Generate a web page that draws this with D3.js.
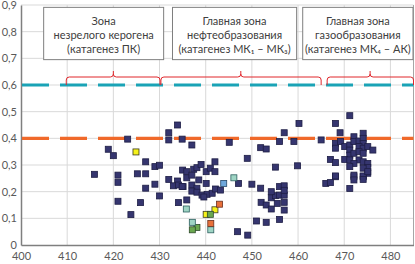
<!DOCTYPE html>
<html><head><meta charset="utf-8">
<script src="https://cdn.jsdelivr.net/npm/d3@7"></script>
<style>body{margin:0;background:#fff;}svg{display:block;font-family:Lato,"Open Sans",sans-serif;}</style>
</head><body><div id="chart"></div>
<script>
const xTicks = [400,410,420,430,440,450,460,470,480];
const yTicks = [0,0.1,0.2,0.3,0.4,0.5,0.6,0.7,0.8,0.9];
const thresholdGas = 0.6;
const thresholdOil = 0.4;

const navyPoints = [
[433.9,0.45],[432.0,0.421],[432.0,0.394],[434.9,0.397],[423.1,0.397],[418.9,0.359],[420.0,0.335],
[427.0,0.312],[429.0,0.294],[430.0,0.299],[415.9,0.265],[421.0,0.262],[421.0,0.235],[425.2,0.267],
[427.0,0.267],[427.0,0.213],[429.0,0.228],[430.0,0.184],[421.0,0.164],[425.9,0.159],[423.8,0.114],
[432.0,0.246],[433.9,0.24],[433.0,0.222],[434.1,0.225],[435.1,0.219],[435.0,0.281],[435.9,0.275],
[435.9,0.252],[434.1,0.159],[435.9,0.169],[437.0,0.375],[445.1,0.385],[457.0,0.421],[456.0,0.388],
[451.9,0.365],[453.1,0.36],[449.0,0.325],[442.0,0.312],[455.1,0.292],[459.9,0.297],[437.4,0.284],
[438.1,0.29],[439.0,0.302],[440.1,0.275],[441.0,0.288],[442.0,0.275],[437.0,0.262],[438.5,0.244],
[440.1,0.231],[434.9,0.219],[437.0,0.225],[438.1,0.213],[437.0,0.202],[438.1,0.198],[439.2,0.187],
[440.3,0.19],[441.4,0.194],[442.1,0.21],[443.2,0.206],[439.6,0.18],[447.1,0.231],[450.0,0.228],
[451.9,0.213],[456.0,0.219],[457.0,0.222],[454.2,0.177],[455.1,0.185],[456.0,0.187],[457.0,0.187],
[452.0,0.16],[453.1,0.15],[454.2,0.135],[455.5,0.156],[457.0,0.16],[457.0,0.131],[456.0,0.096],
[451.0,0.09],[453.1,0.085],[446.9,0.05],[449.1,0.037],[454.2,0.2],[457.0,0.205],[471.2,0.485],
[460.2,0.456],[468.1,0.456],[469.1,0.421],[459.1,0.388],[465.0,0.394],[472.1,0.406],[474.1,0.419],
[468.1,0.381],[468.1,0.363],[469.2,0.388],[470.1,0.369],[471.2,0.375],[471.2,0.356],[472.1,0.388],
[473.2,0.39],[474.1,0.4],[474.1,0.381],[473.2,0.369],[474.1,0.363],[475.1,0.369],[476.2,0.356],
[471.2,0.337],[472.1,0.344],[473.2,0.35],[474.1,0.344],[470.1,0.321],[471.2,0.319],[473.2,0.319],
[474.1,0.312],[467.0,0.321],[468.1,0.309],[472.1,0.306],[475.1,0.306],[475.1,0.291],[471.2,0.294],
[474.1,0.288],[475.1,0.269],[468.1,0.256],[472.1,0.256],[474.1,0.256],[466.0,0.231],[467.0,0.234],
[468.1,0.259],[471.2,0.212],[472.1,0.262],[472.1,0.244],[474.1,0.259],[474.1,0.246],[475.1,0.275]
];
const yellowPoints = [[424.9,0.349],[440.1,0.115],[442.0,0.132]];
const greenPoints = [[441.0,0.115],[438.1,0.066],[437.1,0.057]];
const tealPoints = [[435.8,0.135],[437.1,0.085],[441.1,0.057],[446.1,0.252]];
const bluePoints = [[443.9,0.231]];
const orangePoints = [[443.0,0.153],[441.1,0.081]];

const zones = [
  {lines:["Зона","незрелого керогена","(катагенез ПК)"], x0:404.8, x1:431.0},
  {lines:["Главная зона","нефтеобразования","(катагенез МК₁ – МК₃)"], x0:432.7, x1:459.8},
  {lines:["Главная зона","газообразования","(катагенез МК₄ – АК)"], x0:460.9, x1:485}
];
const zoneTop = 0.893, zoneBottom = 0.697;
const braces = [[409.8,430.1,420.0],[430.3,465.0,447.6],[466.3,485,475.6]];

const W=415,H=264;
const svg=d3.select("#chart").append("svg").attr("width",W).attr("height",H);
const x=d3.scaleLinear().domain([400,485]).range([21,413.5]);
const y=d3.scaleLinear().domain([0,0.9]).range([245,5]);

// grid
svg.append("g").selectAll("line").data(xTicks.slice(1)).join("line")
  .attr("x1",d=>x(d)).attr("x2",d=>x(d)).attr("y1",y(0.9)).attr("y2",y(0))
  .attr("stroke","#d9d9d9").attr("stroke-width",1);
svg.append("g").selectAll("line").data(yTicks.slice(1)).join("line")
  .attr("x1",x(400)).attr("x2",x(485)).attr("y1",d=>y(d)).attr("y2",d=>y(d))
  .attr("stroke","#d9d9d9").attr("stroke-width",1);
// right border
svg.append("line").attr("x1",x(485)).attr("x2",x(485)).attr("y1",y(0.9)).attr("y2",y(0)).attr("stroke","#a6a6a6");

// axes
const fmt=d=>d===0?"0":d3.format(".1f")(d).replace(".",",");
const gx=svg.append("g").attr("transform",`translate(0,${y(0)})`)
  .call(d3.axisBottom(x).tickValues(xTicks).tickSize(0).tickPadding(7).tickFormat(d3.format("d")));
const gy=svg.append("g").attr("transform",`translate(${x(400)},0)`)
  .call(d3.axisLeft(y).tickValues(yTicks).tickSize(0).tickPadding(4).tickFormat(fmt));
[gx,gy].forEach(g=>{g.select(".domain").attr("stroke","#7f7f7f").attr("stroke-width",1.5);
  g.selectAll("text").attr("fill","#595959").attr("font-size","11px").attr("font-family","Lato,'Open Sans',sans-serif");});

// threshold lines
[[thresholdGas,"#1aa3b6"],[thresholdOil,"#f0692a"]].forEach(([v,c])=>{
  svg.append("line").attr("x1",x(400)+1).attr("x2",x(485)).attr("y1",y(v)).attr("y2",y(v))
    .attr("stroke",c).attr("stroke-width",3.2).attr("stroke-dasharray","27,11");
});

// points
function drawPts(data,fill,stroke){
  svg.append("g").selectAll("rect").data(data).join("rect")
    .attr("x",d=>x(d[0])-3).attr("y",d=>y(d[1])-3).attr("width",6).attr("height",6)
    .attr("fill",fill).attr("stroke",stroke).attr("stroke-width",0.8);
}
drawPts(navyPoints,"#35356f","#1e1e45");
drawPts(yellowPoints,"#f5f21a","#3a3a20");
drawPts(greenPoints,"#6aa84f","#2d4a2a");
drawPts(tealPoints,"#9fd5c4","#2c5f5f");
drawPts(bluePoints,"#6fa8dc","#2a4a6a");
drawPts(orangePoints,"#e8703a","#6a3020");

// braces
const by0=85,by1=77,byt=71;
braces.forEach(([a,b,m])=>{
  const xa=x(a),xb=x(b),xm=x(m),r=3;
  const p=`M${xa},${by0} L${xa},${by1+r} Q${xa},${by1} ${xa+r},${by1} L${xm-r},${by1} Q${xm},${by1} ${xm},${by1-3} L${xm},${byt} M${xm},${by1-3} Q${xm},${by1} ${xm+r},${by1} L${xb-r},${by1} Q${xb},${by1} ${xb},${by1+r} L${xb},${by0}`;
  svg.append("path").attr("d",p).attr("fill","none").attr("stroke","#e0262b").attr("stroke-width",1);
});

// zone boxes
zones.forEach(z=>{
  const g=svg.append("g");
  g.append("rect").attr("x",x(z.x0)+0.5).attr("y",y(zoneTop)+0.5)
    .attr("width",x(z.x1)-x(z.x0)-1).attr("height",y(zoneBottom)-y(zoneTop))
    .attr("fill","#fff").attr("stroke","#7f7f7f").attr("stroke-width",1);
  const cx=(x(z.x0)+x(z.x1))/2;
  z.lines.forEach((t,i)=>{
    g.append("text").attr("x",cx).attr("y",y(zoneTop)+18+i*14).attr("text-anchor","middle")
      .attr("font-size","11px").attr("fill","#404040").text(t);
  });
});
</script></body></html>
